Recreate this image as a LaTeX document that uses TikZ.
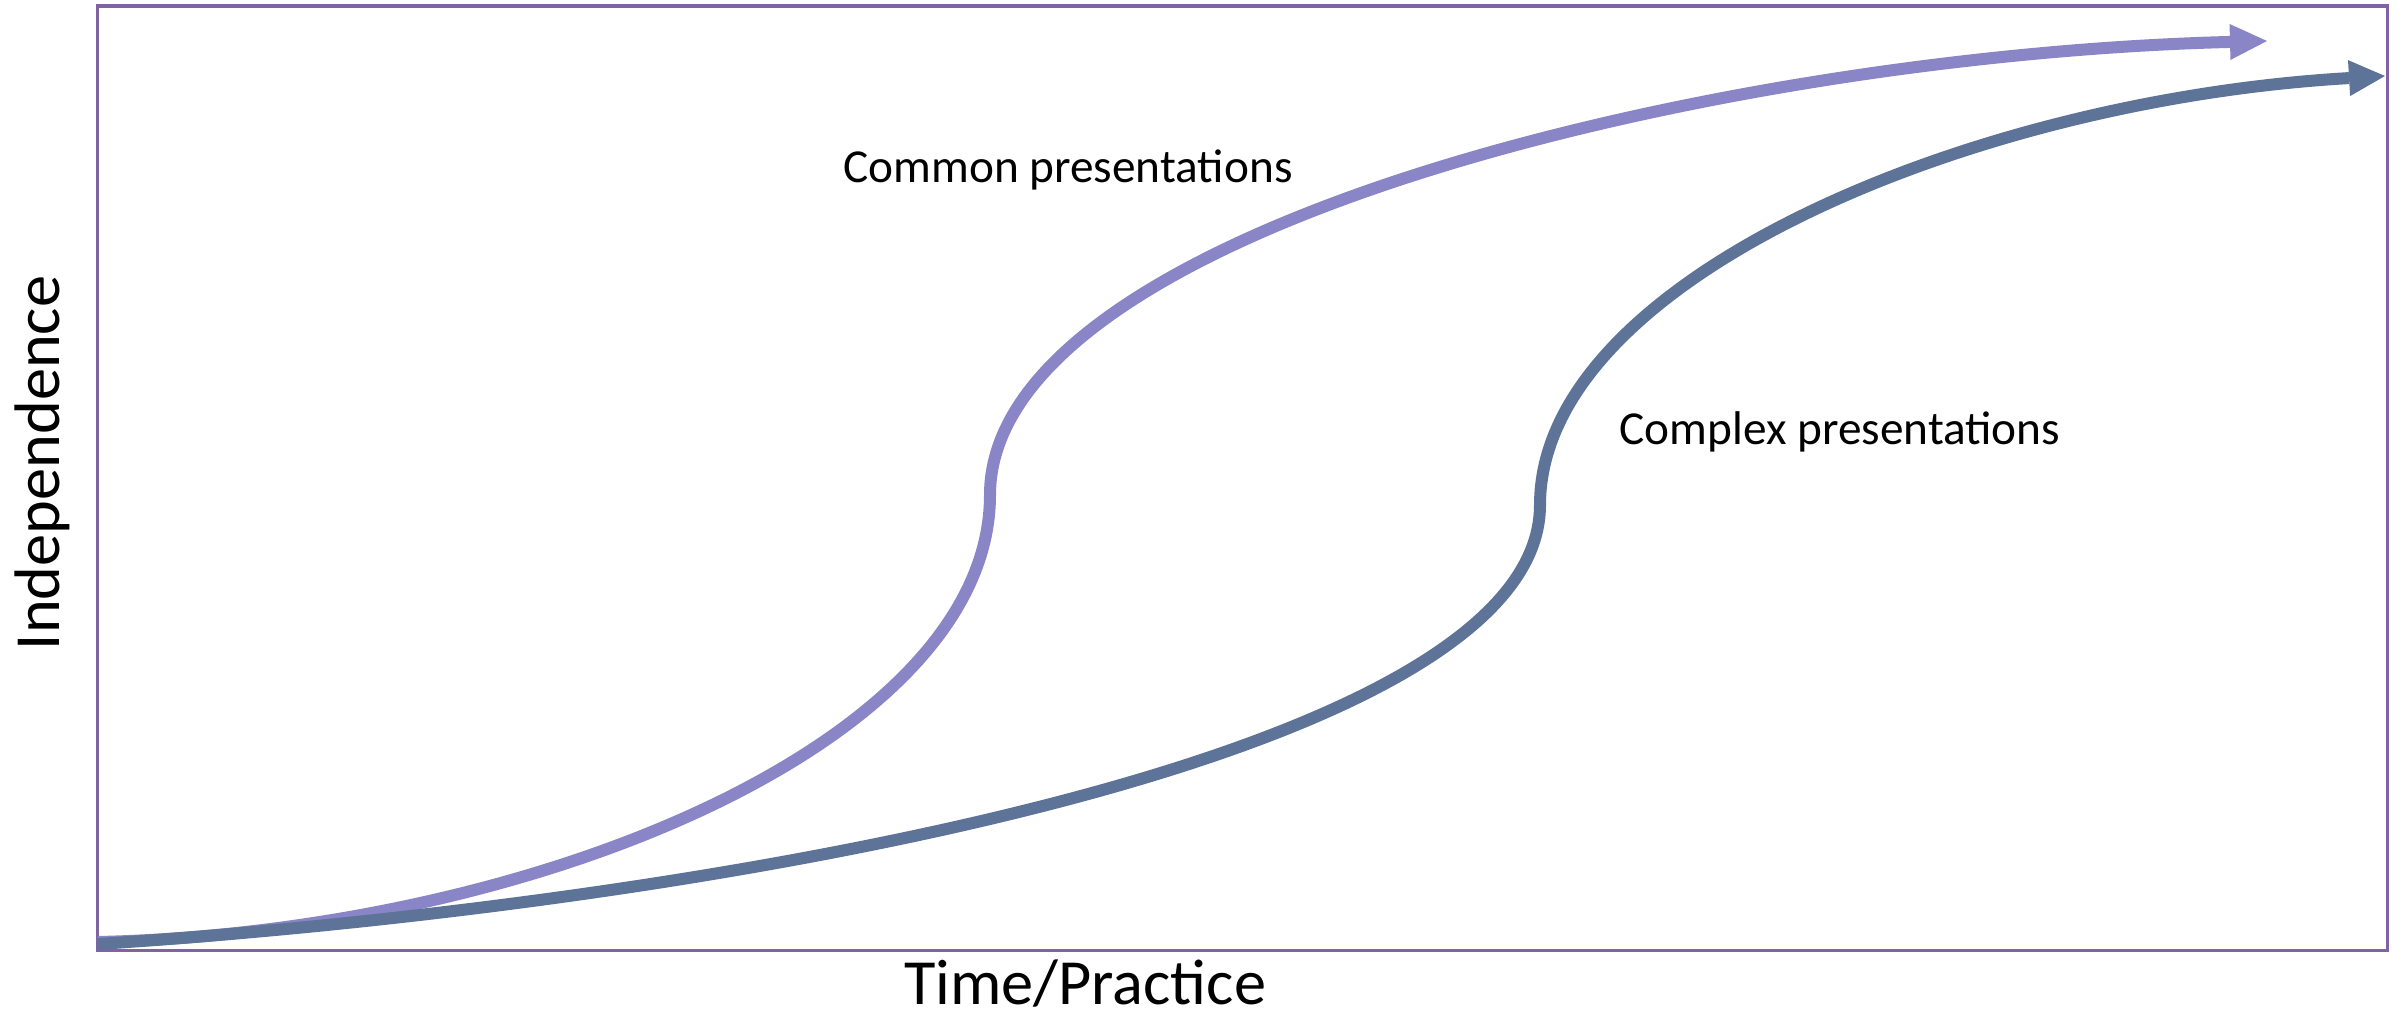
\documentclass[tikz,border=0pt]{standalone}
\usepackage{fontspec}
\setmainfont{Carlito}
\usetikzlibrary{arrows.meta}
\definecolor{lightcurve}{RGB}{138,133,198}
\definecolor{darkcurve}{RGB}{94,115,152}
\definecolor{framecol}{RGB}{128,100,162}
\tikzset{
  curvestyle/.style={line width=0.12cm, line cap=butt},
  lightarrow/.style={curvestyle, draw=lightcurve, -{Triangle[length=3.7mm,width=3.6mm,line width=0pt]}},
  darkarrow/.style={curvestyle, draw=darkcurve, -{Triangle[length=3.6mm,width=3.6mm,line width=0pt]}},
  framestyle/.style={draw=framecol, line width=0.03cm},
  labelsmall/.style={inner sep=0pt, anchor=base, font=\fontsize{13.45}{16}\selectfont},
  labelbig/.style={inner sep=0pt, anchor=base, font=\fontsize{18.3}{22}\selectfont}
}
\begin{document}
\begin{tikzpicture}[x=0.01cm, y=-0.01cm]
\useasboundingbox (0,0) rectangle (2405,1015);
% frame
\draw[framestyle] (97,6) rectangle (2387,950);
% named points
\coordinate (ls) at (98,942);
\coordinate (lm) at (990,495);
\coordinate (le) at (2267,41);
\coordinate (ds) at (98,944);
\coordinate (dm) at (1540,505);
\coordinate (de) at (2385,76);
% curves
\draw[lightarrow] (ls) .. controls (538,932) and (990,740) .. (lm)
                       .. controls (990,230) and (1717,55) .. (le);
\draw[darkarrow] (ds) .. controls (700,905) and (1540,760) .. (dm)
                      .. controls (1540,280) and (1970,100) .. (de);
% labels
\node[labelsmall] (common) at (1068,182) {Common presentations};
\node[labelsmall] (complex) at (1840,444) {Complex presentations};
\node[labelbig] (xlabel) at (1085,1004) {Time/Practice};
\node[labelbig, rotate=90] (ylabel) at (60,463) {Independence};
\end{tikzpicture}
\end{document}
